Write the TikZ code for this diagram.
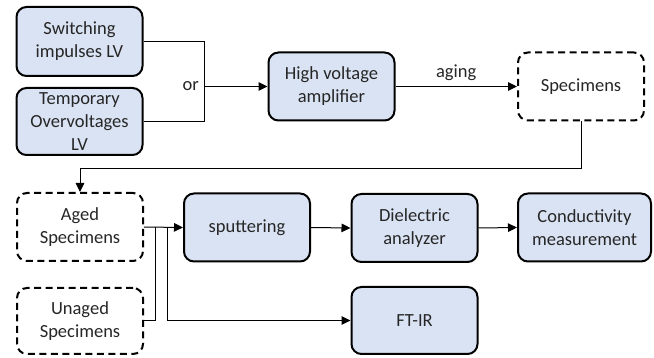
\documentclass[tikz,border=0pt]{standalone}
\usepackage{fontspec}
\setmainfont{Carlito}
\usepackage{xcolor}
\usetikzlibrary{arrows.meta,calc}
\definecolor{boxblue}{HTML}{DAE3F3}
\definecolor{txt}{HTML}{262626}
\tikzset{
  blk/.style = {draw, line width=2pt, rounded corners=10pt, fill=boxblue, text=txt,
    minimum width=126pt, minimum height=68pt, align=center, inner sep=2pt,
    font=\fontsize{18.5}{23}\selectfont},
  dbox/.style = {blk, fill=none, dash pattern=on 7pt off 4.5pt},
  arr/.style = {line width=1pt, -{Triangle[length=9pt,width=8.5pt]}},
  ln/.style = {line width=1pt}
}
\begin{document}
\begin{tikzpicture}[x=1pt, y=-1pt]
  \useasboundingbox (0, 0) rectangle (654, 358);
  % first row
  \node[blk, minimum height=69pt] (sw) at (79.5, 41.5) {Switching\\impulses LV};
  \node[blk, minimum height=67pt] (tov) at (79.5, 121.5) {Temporary\\Overvoltages\\LV};
  \node[blk] (hva) at (331.5, 86.5) {High voltage\\amplifier};
  \node[dbox] (spec) at (581, 86.5) {Specimens};
  % second row
  \node[dbox] (aged) at (80, 227) {Aged\\Specimens};
  \node[dbox, minimum height=66pt] (unaged) at (80, 321) {Unaged\\Specimens};
  \node[blk] (sput) at (247, 227.5) {sputtering};
  \node[blk] (diel) at (414.5, 228) {Dielectric\\analyzer};
  \node[blk, minimum width=133pt] (cond) at (584.5, 227.5) {Conductivity\\measurement};
  \node[blk, minimum height=67pt] (ftir) at (414.5, 320.5) {FT-IR};
  % junctions
  \coordinate (jor) at (204, 86.5);
  \coordinate (j1) at ($(aged.east)+(11, 0)$);
  \coordinate (j2) at ($(aged.east)+(23, 0)$);
  % connectors
  \draw[ln] (sw.east) -| (jor);
  \draw[ln] (tov.east) -| (jor);
  \draw[arr] (jor) -- (hva.west);
  \node[left, inner sep=5pt, text=txt, font=\fontsize{18.5}{23}\selectfont] (orlbl) at (jor) {or};
  \draw[arr] (hva.east) -- node[above, inner sep=5pt, text=txt, font=\fontsize{18.5}{23}\selectfont] (aginglbl) {aging} (spec.west);
  \draw[arr] (spec.south) -- ++(0, 47) -| (aged.north);
  \draw[arr] (aged.east) -- (sput.west);
  \draw[ln] (unaged.east) -| (j1);
  \draw[arr] (j2) |- (ftir.west);
  \draw[arr] (sput.east) -- (diel.west);
  \draw[arr] (diel.east) -- (cond.west);
\end{tikzpicture}
\end{document}
